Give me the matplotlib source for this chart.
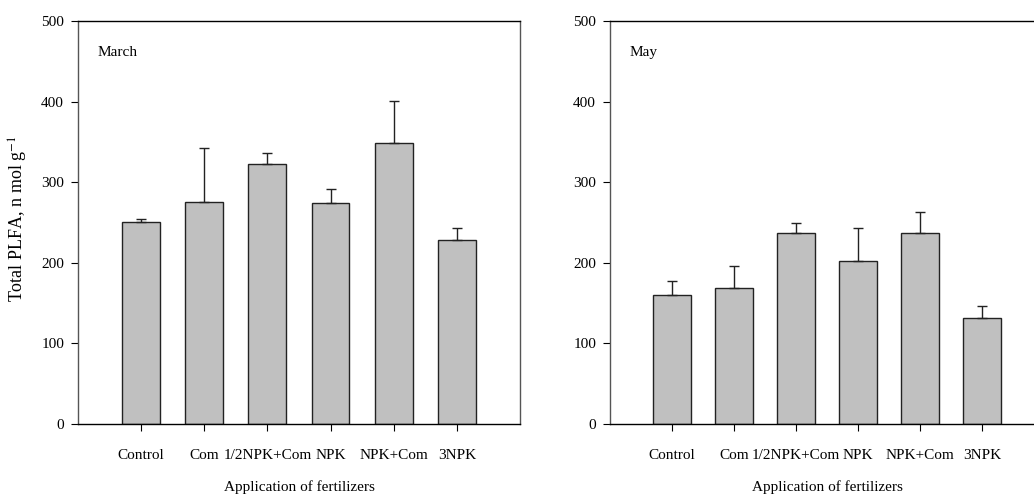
import numpy as np
import matplotlib
matplotlib.use("Agg")
import matplotlib.pyplot as plt

plt.rcParams['font.family'] = ['Liberation Serif', 'DejaVu Serif']
plt.rcParams['mathtext.fontset'] = 'stix'

treatments = ["Control", "Com", "1/2NPK+Com", "NPK", "NPK+Com", "3NPK"]
march_mean = [250, 276, 322, 274, 349, 228]
march_err = [4, 66, 14, 17, 52, 15]
may_mean = [160, 169, 237, 202, 237, 132]
may_err = [17, 27, 12, 41, 26, 14]
panels = ["March", "May"]


def draw(ax, means, errs, title):
    xs = np.arange(len(treatments))
    ax.bar(xs, means, width=0.6, color="#c0c0c0", edgecolor="#222222", linewidth=1.0)
    ax.errorbar(xs, means, yerr=[np.zeros(len(errs)), errs], fmt="none",
                ecolor="#222222", elinewidth=1.0, capsize=3.6, capthick=1.0)
    ax.set_xlim(-1, 6)
    ax.set_ylim(0, 500)
    ax.set_yticks([0, 100, 200, 300, 400, 500])
    ax.set_xticks(xs)
    ax.set_xticklabels(treatments)
    ax.tick_params(axis="x", direction="out", length=5, pad=13, labelsize=11)
    ax.tick_params(axis="y", direction="out", length=5, pad=5, labelsize=11)
    for s in ["left", "right"]:
        ax.spines[s].set_color("#555555")
    for s in ["top", "bottom"]:
        ax.spines[s].set_color("black")
    for s in ax.spines.values():
        s.set_linewidth(1.0)
    ax.set_xlabel("Application of fertilizers", fontsize=11, labelpad=13)
    ax.text(0.045, 0.923, title, transform=ax.transAxes, fontsize=11, va="center", ha="left")


fig = plt.figure(figsize=(10.34, 4.96), dpi=100)
ax1 = fig.add_axes([0.0754, 0.1452, 0.4275, 0.8125])
ax2 = fig.add_axes([0.5899, 0.1452, 0.4197, 0.8125])

draw(ax1, march_mean, march_err, panels[0])
draw(ax2, may_mean, may_err, panels[1])

ax1.set_ylabel("Total PLFA, n mol g$^{-1}$", fontsize=13)
ax1.yaxis.set_label_coords(-0.108, 0.51)

fig.savefig("out.png", dpi=100)
